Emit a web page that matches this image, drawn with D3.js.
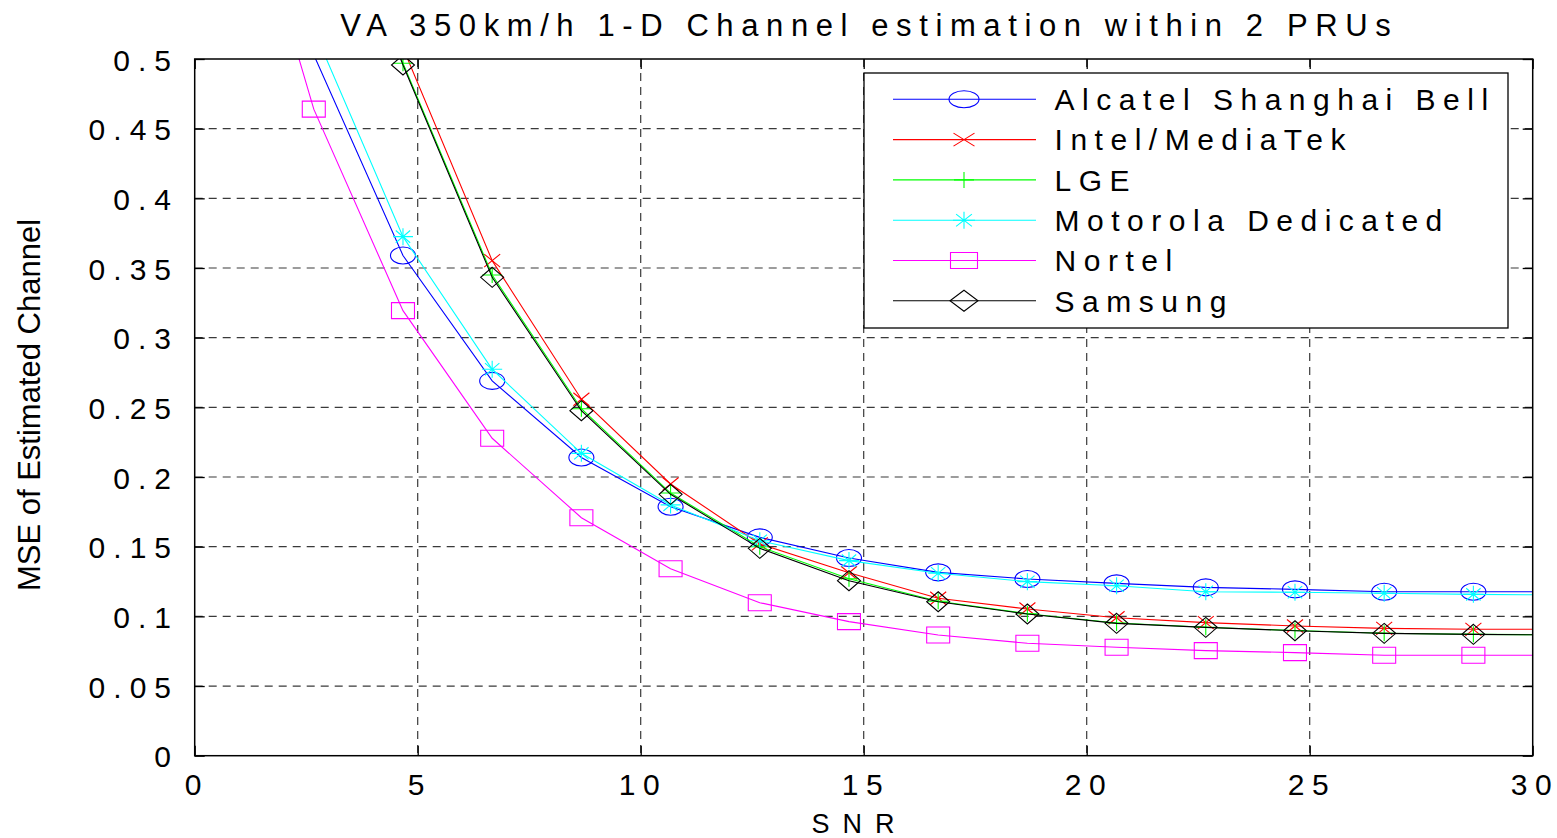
<!DOCTYPE html>
<html>
<head>
<meta charset="utf-8">
<script src="https://cdn.jsdelivr.net/npm/d3@7"></script>
<style>
  html, body { margin: 0; padding: 0; background: #fff; }
  svg { display: block; font-family: "Liberation Sans", Arial, sans-serif; }
</style>
</head>
<body>
<svg id="chart" width="1557" height="838"></svg>
<script>
// SNR sample points (dB) shared by every curve
const snr = [0.67, 2.67, 4.67, 6.67, 8.67, 10.67, 12.67, 14.67, 16.67, 18.67, 20.67, 22.67, 24.67, 26.67, 28.67, 30.67];

// MSE of the estimated channel per proposal
const alcatel  = [0.700, 0.503, 0.359, 0.269, 0.214, 0.1787, 0.1567, 0.1419, 0.1316, 0.1268, 0.1237, 0.1208, 0.1194, 0.1177, 0.1177, 0.1177];
const intel    = [0.800, 0.660, 0.508, 0.3553, 0.2558, 0.195, 0.152, 0.1313, 0.1130, 0.1053, 0.0990, 0.0955, 0.0931, 0.0914, 0.0907, 0.0907];
const lge      = [0.820, 0.660, 0.497, 0.345, 0.249, 0.1885, 0.150, 0.127, 0.1108, 0.1019, 0.0952, 0.0922, 0.0898, 0.0879, 0.0871, 0.0867];
const motorola = [0.720, 0.521, 0.3725, 0.2773, 0.217, 0.180, 0.1543, 0.140, 0.1309, 0.1249, 0.1220, 0.1177, 0.1173, 0.1166, 0.1158, 0.1153];
const nortel   = [0.682, 0.464, 0.3194, 0.2278, 0.1708, 0.1342, 0.1098, 0.0962, 0.0866, 0.0807, 0.0778, 0.0754, 0.0740, 0.0721, 0.0721, 0.0721];
const samsung  = [0.820, 0.660, 0.4957, 0.3433, 0.2476, 0.1876, 0.1488, 0.1256, 0.1105, 0.1017, 0.0950, 0.0921, 0.0897, 0.0878, 0.0871, 0.0866];

const seriesNames   = ["Alcatel Shanghai Bell", "Intel/MediaTek", "LGE", "Motorola Dedicated", "Nortel", "Samsung"];
const seriesValues  = [alcatel, intel, lge, motorola, nortel, samsung];
const seriesColors  = ["#0000ff", "#ff0000", "#00ff00", "#00ffff", "#ff00ff", "#000000"];
const seriesMarkers = ["o", "x", "+", "*", "s", "d"];

const xTicks = [0, 5, 10, 15, 20, 25, 30];
const yTicks = [0, 0.05, 0.1, 0.15, 0.2, 0.25, 0.3, 0.35, 0.4, 0.45, 0.5];
const xTickLabels = ["0", "5", "10", "15", "20", "25", "30"];
const yTickLabels = ["0", "0.05", "0.1", "0.15", "0.2", "0.25", "0.3", "0.35", "0.4", "0.45", "0.5"];

const titleText = "VA 350km/h 1-D Channel estimation within 2 PRUs";
const xLabelText = "SNR";
const yLabelText = "MSE of Estimated Channel";

// ---- layout ----
const W = 1557, H = 838;
const plot = { left: 194.7, right: 1532.7, top: 59, bottom: 755.7 };

const svg = d3.select("#chart");
svg.append("rect").attr("width", W).attr("height", H).attr("fill", "#fff");

const x = d3.scaleLinear().domain([0, 30]).range([plot.left, plot.right]);
const y = d3.scaleLinear().domain([0, 0.5]).range([plot.bottom, plot.top]);

// spread glyphs apart the way the axis text is set
function spread(sel, gap) {
  sel.each(function () {
    const n = this.textContent.length;
    if (n < 2) return;
    const w = this.getComputedTextLength();
    d3.select(this).attr("textLength", w + (n - 1) * gap).attr("lengthAdjust", "spacing");
  });
}

// marker outline centred on 0,0 with given width/height
function markerPath(type, w, h) {
  const a = w / 2, b = h / 2;
  switch (type) {
    case "o": return `M${-a},0A${a},${b} 0 1,0 ${a},0A${a},${b} 0 1,0 ${-a},0Z`;
    case "x": return `M${-a},${-b}L${a},${b}M${-a},${b}L${a},${-b}`;
    case "+": return `M${-a},0L${a},0M0,${-b}L0,${b}`;
    case "*": {
      const da = a * 0.72, db = b * 0.72;
      return `M${-a},0L${a},0M0,${-b}L0,${b}M${-da},${-db}L${da},${db}M${-da},${db}L${da},${-db}`;
    }
    case "s": return `M${-a},${-b}L${a},${-b}L${a},${b}L${-a},${b}Z`;
    case "d": return `M0,${-b}L${a},0L0,${b}L${-a},0Z`;
  }
}
const plotMarkerSize   = { o: [25, 17], x: [16, 13], "+": [20, 16], "*": [20, 17], s: [23, 16], d: [23, 20] };
const legendMarkerSize = { o: [30, 17], x: [21, 13], "+": [20, 16], "*": [22, 17], s: [27, 16], d: [28, 21] };

// ---- clip region for the data ----
svg.append("defs").append("clipPath").attr("id", "plotClip")
  .append("rect")
  .attr("x", plot.left).attr("y", plot.top)
  .attr("width", plot.right - plot.left).attr("height", plot.bottom - plot.top);

// ---- grid ----
const grid = svg.append("g")
  .attr("stroke", "#3a3a3a").attr("stroke-width", 1.2).attr("stroke-dasharray", "8,6");
grid.selectAll(".gx").data(xTicks.slice(1, -1)).join("line")
  .attr("x1", d => x(d)).attr("x2", d => x(d))
  .attr("y1", plot.top).attr("y2", plot.bottom);
grid.selectAll(".gy").data(yTicks.slice(1, -1)).join("line")
  .attr("x1", plot.left).attr("x2", plot.right)
  .attr("y1", d => y(d)).attr("y2", d => y(d));

// ---- axes (ticks point inward on all four sides) ----
const tickLen = 10;
const fmtX = (d, i) => xTickLabels[i];
const fmtY = (d, i) => yTickLabels[i];

const gBottom = svg.append("g").attr("transform", `translate(0,${plot.bottom})`)
  .call(d3.axisBottom(x).tickValues(xTicks).tickFormat(fmtX).tickSizeInner(-tickLen).tickSizeOuter(0));
const gLeft = svg.append("g").attr("transform", `translate(${plot.left},0)`)
  .call(d3.axisLeft(y).tickValues(yTicks).tickFormat(fmtY).tickSizeInner(-tickLen).tickSizeOuter(0));
const gTop = svg.append("g").attr("transform", `translate(0,${plot.top})`)
  .call(d3.axisTop(x).tickValues(xTicks).tickFormat("").tickSizeInner(-tickLen).tickSizeOuter(0));
const gRight = svg.append("g").attr("transform", `translate(${plot.right},0)`)
  .call(d3.axisRight(y).tickValues(yTicks).tickFormat("").tickSizeInner(-tickLen).tickSizeOuter(0));

[gBottom, gLeft, gTop, gRight].forEach(g => {
  g.select(".domain").remove();
  g.selectAll(".tick line").attr("stroke", "#000").attr("stroke-width", 1.3);
});

gBottom.selectAll(".tick text")
  .attr("y", 39.5).attr("dy", 0).attr("x", -2)
  .attr("fill", "#000").attr("font-size", 30).attr("font-family", null)
  .call(spread, 7.5);
gLeft.selectAll(".tick text")
  .attr("x", -23.7).attr("dy", 0).attr("y", 11)
  .attr("fill", "#000").attr("font-size", 30).attr("font-family", null)
  .call(spread, 8);

// ---- curves ----
const line = d3.line().x(d => x(d.s)).y(d => y(d.v));
const data = seriesNames.map((name, k) => ({
  name, color: seriesColors[k], marker: seriesMarkers[k],
  pts: snr.map((s, i) => ({ s, v: seriesValues[k][i] }))
}));

const curves = svg.append("g").attr("clip-path", "url(#plotClip)");
data.forEach(ser => {
  const g = curves.append("g");
  g.append("path").datum(ser.pts)
    .attr("d", line).attr("fill", "none")
    .attr("stroke", ser.color).attr("stroke-width", 1.1);
  const [mw, mh] = plotMarkerSize[ser.marker];
  g.selectAll("path.m").data(ser.pts.filter(p => p.s <= 30 && p.v <= 0.5)).join("path")
    .attr("class", "m")
    .attr("transform", p => `translate(${x(p.s)},${y(p.v)})`)
    .attr("d", markerPath(ser.marker, mw, mh))
    .attr("fill", "none").attr("stroke", ser.color).attr("stroke-width", 1.1);
});

// ---- axes box ----
svg.append("rect")
  .attr("x", plot.left).attr("y", plot.top)
  .attr("width", plot.right - plot.left).attr("height", plot.bottom - plot.top)
  .attr("fill", "none").attr("stroke", "#000").attr("stroke-width", 1.5);

// ---- legend ----
const legend = svg.append("g");
const lg = { x0: 864, y0: 73, x1: 1508, y1: 328, lineA: 893, lineB: 1036, mark: 964, textX: 1054.6, row0: 99.3, rowStep: 40.3 };
legend.append("rect")
  .attr("x", lg.x0).attr("y", lg.y0).attr("width", lg.x1 - lg.x0).attr("height", lg.y1 - lg.y0)
  .attr("fill", "#fff").attr("stroke", "#000").attr("stroke-width", 1.3);
data.forEach((ser, i) => {
  const ry = lg.row0 + i * lg.rowStep;
  legend.append("line")
    .attr("x1", lg.lineA).attr("x2", lg.lineB).attr("y1", ry).attr("y2", ry)
    .attr("stroke", ser.color).attr("stroke-width", 1.1);
  const [mw, mh] = legendMarkerSize[ser.marker];
  legend.append("path")
    .attr("transform", `translate(${lg.mark},${ry})`)
    .attr("d", markerPath(ser.marker, mw, mh))
    .attr("fill", "none").attr("stroke", ser.color).attr("stroke-width", 1.1);
  legend.append("text")
    .attr("x", lg.textX).attr("y", ry + 10.7)
    .attr("font-size", 30).attr("fill", "#000")
    .text(ser.name)
    .call(spread, 7.5);
});

// ---- title and axis labels ----
svg.append("text")
  .attr("x", 865.5).attr("y", 36).attr("text-anchor", "middle")
  .attr("font-size", 31).attr("fill", "#000")
  .text(titleText).call(spread, 7.6);

svg.append("text")
  .attr("x", 853).attr("y", 833).attr("text-anchor", "middle")
  .attr("font-size", 27).attr("fill", "#000")
  .text(xLabelText).call(spread, 13);

svg.append("text")
  .attr("transform", "translate(40,405) rotate(-90)")
  .attr("text-anchor", "middle")
  .attr("font-size", 31).attr("fill", "#000")
  .text(yLabelText);
</script>
</body>
</html>
